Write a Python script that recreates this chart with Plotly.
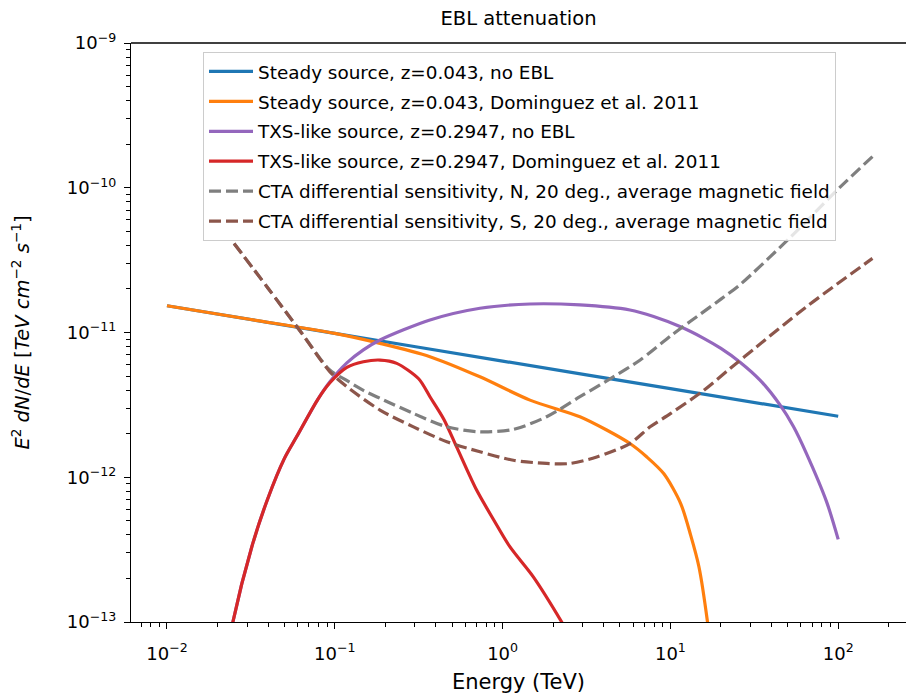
import plotly.graph_objects as go

# ---- spectra (E in TeV, E^2 dN/dE in TeV cm^-2 s^-1) ----
E_steady = [0.01, 0.1, 1.0, 10.0, 100.0]
F_steady = [1.53e-11, 9.86e-12, 6.35e-12, 4.09e-12, 2.64e-12]

E_steady_ebl = [0.01, 0.0316, 0.1, 0.186, 0.369, 0.733, 1.456, 2.89, 4.17, 5.74,
                7.24, 9.12, 11.5, 13.2, 14.8, 16.6, 18.2]
F_steady_ebl = [1.53e-11, 1.23e-11, 9.86e-12, 8.41e-12, 6.81e-12, 4.94e-12, 3.41e-12,
                2.62e-12, 2.12e-12, 1.71e-12, 1.38e-12, 1.06e-12, 6.61e-13, 3.98e-13,
                2.40e-13, 1.02e-13, 4.0e-14]

E_txs = [0.02, 0.0247, 0.032, 0.0398, 0.0501, 0.0593, 0.0794, 0.0935, 0.118, 0.148,
         0.186, 0.369, 0.733, 1.456, 2.89, 5.74, 7.94, 11.4, 15.8, 20.0, 26.0, 34.2,
         45.0, 54.1, 64.9, 85.3, 100.0]
F_txs = [2.5e-14, 1.0e-13, 3.30e-13, 7.08e-13, 1.35e-12, 1.91e-12, 3.47e-12, 4.57e-12,
         6.17e-12, 7.59e-12, 8.87e-12, 1.22e-11, 1.47e-11, 1.574e-11, 1.55e-11, 1.43e-11,
         1.29e-11, 1.10e-11, 9.12e-12, 7.76e-12, 6.24e-12, 4.69e-12, 3.16e-12, 2.24e-12,
         1.445e-12, 6.76e-13, 3.72e-13]

E_txs_ebl = [0.02, 0.0247, 0.032, 0.0398, 0.0501, 0.0593, 0.0794, 0.0935, 0.118, 0.148,
             0.186, 0.234, 0.316, 0.369, 0.447, 0.532, 0.70, 0.891, 1.107, 1.524, 2.25, 2.82]
F_txs_ebl = [2.5e-14, 1.0e-13, 3.30e-13, 7.08e-13, 1.35e-12, 1.91e-12, 3.47e-12, 4.50e-12,
             5.75e-12, 6.28e-12, 6.45e-12, 6.12e-12, 4.79e-12, 3.60e-12, 2.51e-12, 1.62e-12,
             8.15e-13, 5.01e-13, 3.30e-13, 2.05e-13, 1.0e-13, 6.3e-14]

E_cta_n = [0.0251, 0.0398, 0.0631, 0.0933, 0.117, 0.148, 0.186, 0.294, 0.465, 0.733,
           1.159, 1.83, 2.89, 4.57, 6.61, 10.0, 13.1, 20.0, 26.0, 51.6, 102.6, 160.0]
F_cta_n = [4.12e-11, 2.04e-11, 1.0e-11, 5.51e-12, 4.68e-12, 3.98e-12, 3.51e-12, 2.76e-12,
           2.23e-12, 2.06e-12, 2.14e-12, 2.62e-12, 3.60e-12, 4.94e-12, 6.46e-12, 9.44e-12,
           1.19e-11, 1.70e-11, 2.14e-11, 4.52e-11, 1.01e-10, 1.64e-10]

E_cta_s = [0.0251, 0.0398, 0.0631, 0.0933, 0.118, 0.186, 0.294, 0.465, 0.733, 1.159,
           1.83, 2.52, 3.64, 5.74, 7.57, 10.0, 15.8, 22.6, 32.7, 64.9, 160.0]
F_cta_s = [4.12e-11, 2.04e-11, 1.0e-11, 5.37e-12, 4.22e-12, 2.91e-12, 2.23e-12, 1.76e-12,
           1.50e-12, 1.31e-12, 1.245e-12, 1.245e-12, 1.38e-12, 1.71e-12, 2.23e-12, 2.75e-12,
           3.98e-12, 5.62e-12, 7.98e-12, 1.51e-11, 3.25e-11]

series_names = [
    "Steady source, z=0.043, no EBL",
    "Steady source, z=0.043, Dominguez et al. 2011",
    "TXS-like source, z=0.2947, no EBL",
    "TXS-like source, z=0.2947, Dominguez et al. 2011",
    "CTA differential sensitivity, N, 20 deg., average magnetic field",
    "CTA differential sensitivity, S, 20 deg., average magnetic field",
]

x_tick_vals = [0.01, 0.1, 1, 10, 100]
x_tick_text = ["10<sup>−2</sup>", "10<sup>−1</sup>", "10<sup>0</sup>", "10<sup>1</sup>", "10<sup>2</sup>"]
y_tick_vals = [1e-13, 1e-12, 1e-11, 1e-10, 1e-9]
y_tick_text = ["10<sup>−13</sup>", "10<sup>−12</sup>", "10<sup>−11</sup>", "10<sup>−10</sup>", "10<sup>−9</sup>"]

x_minor = [m * 10.0 ** k for k in range(-3, 3) for m in range(2, 10)]
y_minor = [m * 10.0 ** k for k in range(-14, -9) for m in range(2, 10)]

FONT = "DejaVu Sans"
W, H = 906, 696
ML, MR, MT, MB = 131, 0, 43, 74

curves = [
    (E_steady, F_steady, "#1f77b4", None),
    (E_steady_ebl, F_steady_ebl, "#ff7f0e", None),
    (E_txs, F_txs, "#9467bd", None),
    (E_txs_ebl, F_txs_ebl, "#d62728", None),
    (E_cta_n, F_cta_n, "#7f7f7f", "12px,5px"),
    (E_cta_s, F_cta_s, "#8c564b", "12px,5px"),
]

fig = go.Figure()
for i, ((xs, ys, col, dash), name) in enumerate(zip(curves, series_names)):
    line = dict(color=col, width=3.2, shape="spline", smoothing=0.8)
    if dash:
        line["dash"] = dash
    fig.add_trace(go.Scatter(x=xs, y=ys, mode="lines", name=name, line=line,
                             legendgroup=f"g{i}", cliponaxis=True))

axis_common = dict(
    type="log", showgrid=False, zeroline=False, showline=True, linecolor="black",
    linewidth=1.3, ticks="outside", ticklen=6, tickwidth=1.3, tickcolor="black",
    tickmode="array", tickfont=dict(family=FONT, size=18, color="black"),
)

fig.update_layout(
    width=W, height=H,
    margin=dict(l=ML, r=MR, t=MT, b=MB, pad=0),
    paper_bgcolor="white", plot_bgcolor="white",
    font=dict(family=FONT, color="black"),
    title=dict(text="EBL attenuation", xref="paper", x=0.5, xanchor="center",
               yref="container", y=1 - 18 / H, yanchor="middle",
               font=dict(family=FONT, size=19.5, color="black")),
    xaxis=dict(axis_common, range=[-2.2145, 2.404], tickvals=x_tick_vals, ticktext=x_tick_text,
               ticklabelstandoff=9,
               minor=dict(tickmode="array", tickvals=x_minor, ticks="outside", ticklen=3.5,
                          tickwidth=1, tickcolor="black"),
               title=dict(text="Energy (TeV)", standoff=11,
                          font=dict(family=FONT, size=21, color="black"))),
    yaxis=dict(axis_common, range=[-13, -9], tickvals=y_tick_vals, ticktext=y_tick_text,
               ticklabelstandoff=4,
               minor=dict(tickmode="array", tickvals=y_minor, ticks="outside", ticklen=3.5,
                          tickwidth=1, tickcolor="black"),
               title=dict(text="<i>E</i><sup>2</sup> <i>dN</i>/<i>dE</i> [<i>TeV</i> <i>cm</i><sup>−2</sup> <i>s</i><sup>−1</sup>]",
                          standoff=31, font=dict(family=FONT, size=19.5, color="black"))),
    legend=dict(x=(203 - ML) / (W - ML - MR), y=(H - MB - 52) / (H - MT - MB),
                xanchor="left", yanchor="top", bgcolor="rgba(255,255,255,0.8)",
                bordercolor="#cccccc", borderwidth=1, tracegroupgap=3,
                traceorder="grouped", itemwidth=44,
                font=dict(family=FONT, size=18.4, color="black")),
    showlegend=True,
)

# top spine
fig.add_shape(type="line", xref="paper", yref="paper", x0=0, x1=1, y0=1, y1=1,
              line=dict(color="black", width=1.3))

fig.write_html("out.html")
